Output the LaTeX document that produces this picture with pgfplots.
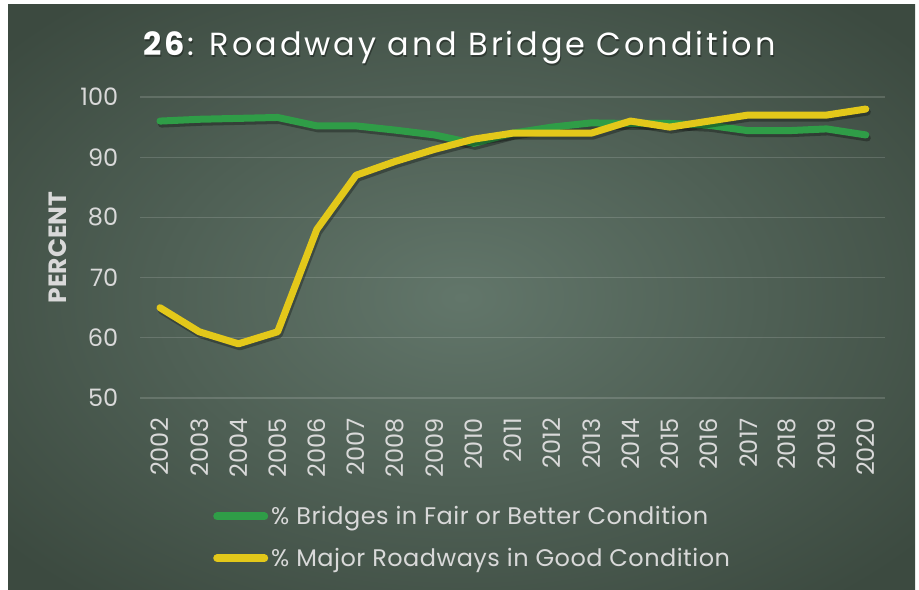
\documentclass[border=0pt]{standalone}
\usepackage{fontspec}
\setmainfont{Poppins}
\usepackage{pgfplots}
\usepackage{pgfplotstable}
\pgfplotsset{compat=1.18}
\definecolor{bgin}{HTML}{62766A}
\definecolor{bgout}{HTML}{3C4A40}
\definecolor{bridge}{HTML}{2F9D47}
\definecolor{road}{HTML}{E3C81A}
\definecolor{txt}{HTML}{D9D9D9}
\pgfdeclareradialshading{bgshade}{\pgfpointorigin}{color(0bp)=(bgin); color(33bp)=(bgout); color(50bp)=(bgout)}
\pgfplotstableread{
x y
0 96.0
1 96.3
2 96.45
3 96.6
4 95.2
5 95.2
6 94.5
7 93.7
8 92.3
9 94.0
10 95.0
11 95.7
12 95.6
13 95.6
14 95.3
15 94.4
16 94.4
17 94.7
18 93.7
}\bridges
\pgfplotstableread{
x y
0 65
1 61
2 59
3 61
4 78
5 87
6 89.3
7 91.3
8 93
9 94
10 94
11 94
12 96
13 95
14 96
15 97
16 97
17 97
18 98
}\roads
\begin{document}
\begin{tikzpicture}
\useasboundingbox (0bp,0bp) rectangle (919bp,590bp);
\fill[white] (0bp,0bp) rectangle (919bp,590bp);
\shade[shading=bgshade] (8bp,0bp) rectangle (915bp,585bp);
\node[anchor=base, text=black, opacity=0.35, font=\fontsize{32bp}{34bp}\selectfont\addfontfeature{LetterSpace=9}] at (460.5bp,532.5bp) {\textbf{26}: Roadway and Bridge Condition};
\node[anchor=base, text=white, font=\fontsize{32bp}{34bp}\selectfont\addfontfeature{LetterSpace=9}] at (459.5bp,534bp) {\textbf{26}: Roadway and Bridge Condition};
\begin{axis}[
  at={(140.4bp,192bp)}, anchor=south west,
  scale only axis, width=745bp, height=301bp,
  xmin=-0.5, xmax=18.5, ymin=50, ymax=100,
  ytick={50,60,70,80,90,100},
  xtick={0,...,18},
  xticklabels={2002,2003,2004,2005,2006,2007,2008,2009,2010,2011,2012,2013,2014,2015,2016,2017,2018,2019,2020},
  /pgf/number format/assume math mode=true,
  axis line style={draw=none},
  major tick length=0pt,
  ymajorgrids,
  grid style={white, opacity=0.15, line width=1.2bp},
  tick label style={font=\fontsize{24bp}{26bp}\selectfont, text=txt},
  yticklabel style={inner sep=0pt, anchor=east},
  yticklabel shift=22bp,
  xticklabel style={rotate=90, anchor=east, inner sep=0pt},
  xticklabel shift=20bp,
  ylabel={PERCENT},
  every axis y label/.style={at={(axis description cs:-0.1106,0.5)}, rotate=90, anchor=center, font=\fontsize{25bp}{27bp}\selectfont\bfseries, text=txt},
  legend style={at={(axis description cs:0.0975,-0.36)}, anchor=north west, draw=none, fill=none, text=txt, font=\fontsize{24bp}{27bp}\selectfont\addfontfeature{LetterSpace=2}, inner sep=0pt, row sep=22bp, column sep=3bp, nodes={inner sep=0pt}},
  legend cell align=left,
  legend image code/.code={\draw[#1, line width=8bp, line cap=round] (4bp,0bp) -- (51bp,0bp);},
]
\addplot[forget plot, black, opacity=0.3, line width=7bp, line join=round, line cap=round, xshift=1.5bp, yshift=-3bp] table[x=x,y=y] {\bridges};
\addplot[bridge, line width=7bp, line join=round, line cap=round] table[x=x,y=y] {\bridges};
\addlegendentry{\% Bridges in Fair or Better Condition}
\addplot[forget plot, black, opacity=0.3, line width=7bp, line join=round, line cap=round, xshift=1.5bp, yshift=-3bp] table[x=x,y=y] {\roads};
\addplot[road, line width=7bp, line join=round, line cap=round] table[x=x,y=y] {\roads};
\addlegendentry{\% Major Roadways in Good Condition}
\end{axis}
\end{tikzpicture}
\end{document}
